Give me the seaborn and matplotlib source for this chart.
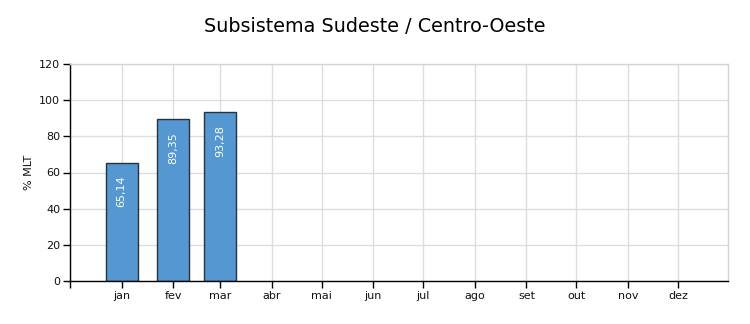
import matplotlib
matplotlib.use("Agg")
import matplotlib.pyplot as plt
import seaborn as sns
import pandas as pd

# Data
months = ["jan", "fev", "mar", "abr", "mai", "jun", "jul", "ago", "set", "out", "nov", "dez"]
month_start_day = [31, 62, 90, 121, 151, 182, 212, 243, 274, 304, 335, 365]  # days since 1 Dec of previous year
bar_months = ["jan", "fev", "mar"]
bar_values = [65.14, 89.35, 93.28]
bar_labels = ["65,14", "89,35", "93,28"]
yticks = [0, 20, 40, 60, 80, 100, 120]

sns.set_theme(style="white")
plt.rcParams["font.family"] = ["DejaVu Sans"]

fig = plt.figure(figsize=(7.5, 3.24), dpi=100)
W, H = 750, 324
ax = fig.add_axes([70 / W, (H - 281) / H, (728 - 70) / W, (281 - 64) / H])

pos = {m: d for m, d in zip(months, month_start_day)}
df = pd.DataFrame({"day": [pos[m] for m in bar_months], "value": bar_values})

sns.barplot(data=df, x="day", y="value", native_scale=True, width=19.2 / 28,
            color="#5597d1", saturation=1, edgecolor="#27323d", linewidth=1.0, ax=ax)

for d, v, lab in zip(df["day"], bar_values, bar_labels):
    ax.annotate(lab, xy=(d, v), xytext=(0, -9), textcoords="offset points",
                rotation=90, ha="center", va="top", color="white", fontsize=8)

ax.set_xlim(0, 395)
ax.set_ylim(0, 120)
ax.set_xticks([0] + month_start_day)
ax.set_xticklabels([""] + months, fontsize=8, color="#111111")
ax.set_yticks(yticks)
ax.set_yticklabels([str(t) for t in yticks], fontsize=8, color="#111111")

ax.grid(True, color="#dddddd", linewidth=1.0)
ax.set_axisbelow(True)
for s in ["top", "right"]:
    ax.spines[s].set_color("#d4d4d4")
    ax.spines[s].set_linewidth(1.0)
for s in ["left", "bottom"]:
    ax.spines[s].set_color("black")
    ax.spines[s].set_linewidth(1.0)
ax.tick_params(axis="both", which="both", direction="out", length=5, width=1,
               color="black", pad=2, bottom=True, left=True)

ax.set_xlabel("")
ax.set_ylabel("% MLT", fontsize=8, color="#111111", labelpad=4)

fig.suptitle("Subsistema Sudeste / Centro-Oeste", fontsize=13.8, color="black",
             y=(H - 27) / H, va="center")

fig.savefig("out.png", dpi=100)
